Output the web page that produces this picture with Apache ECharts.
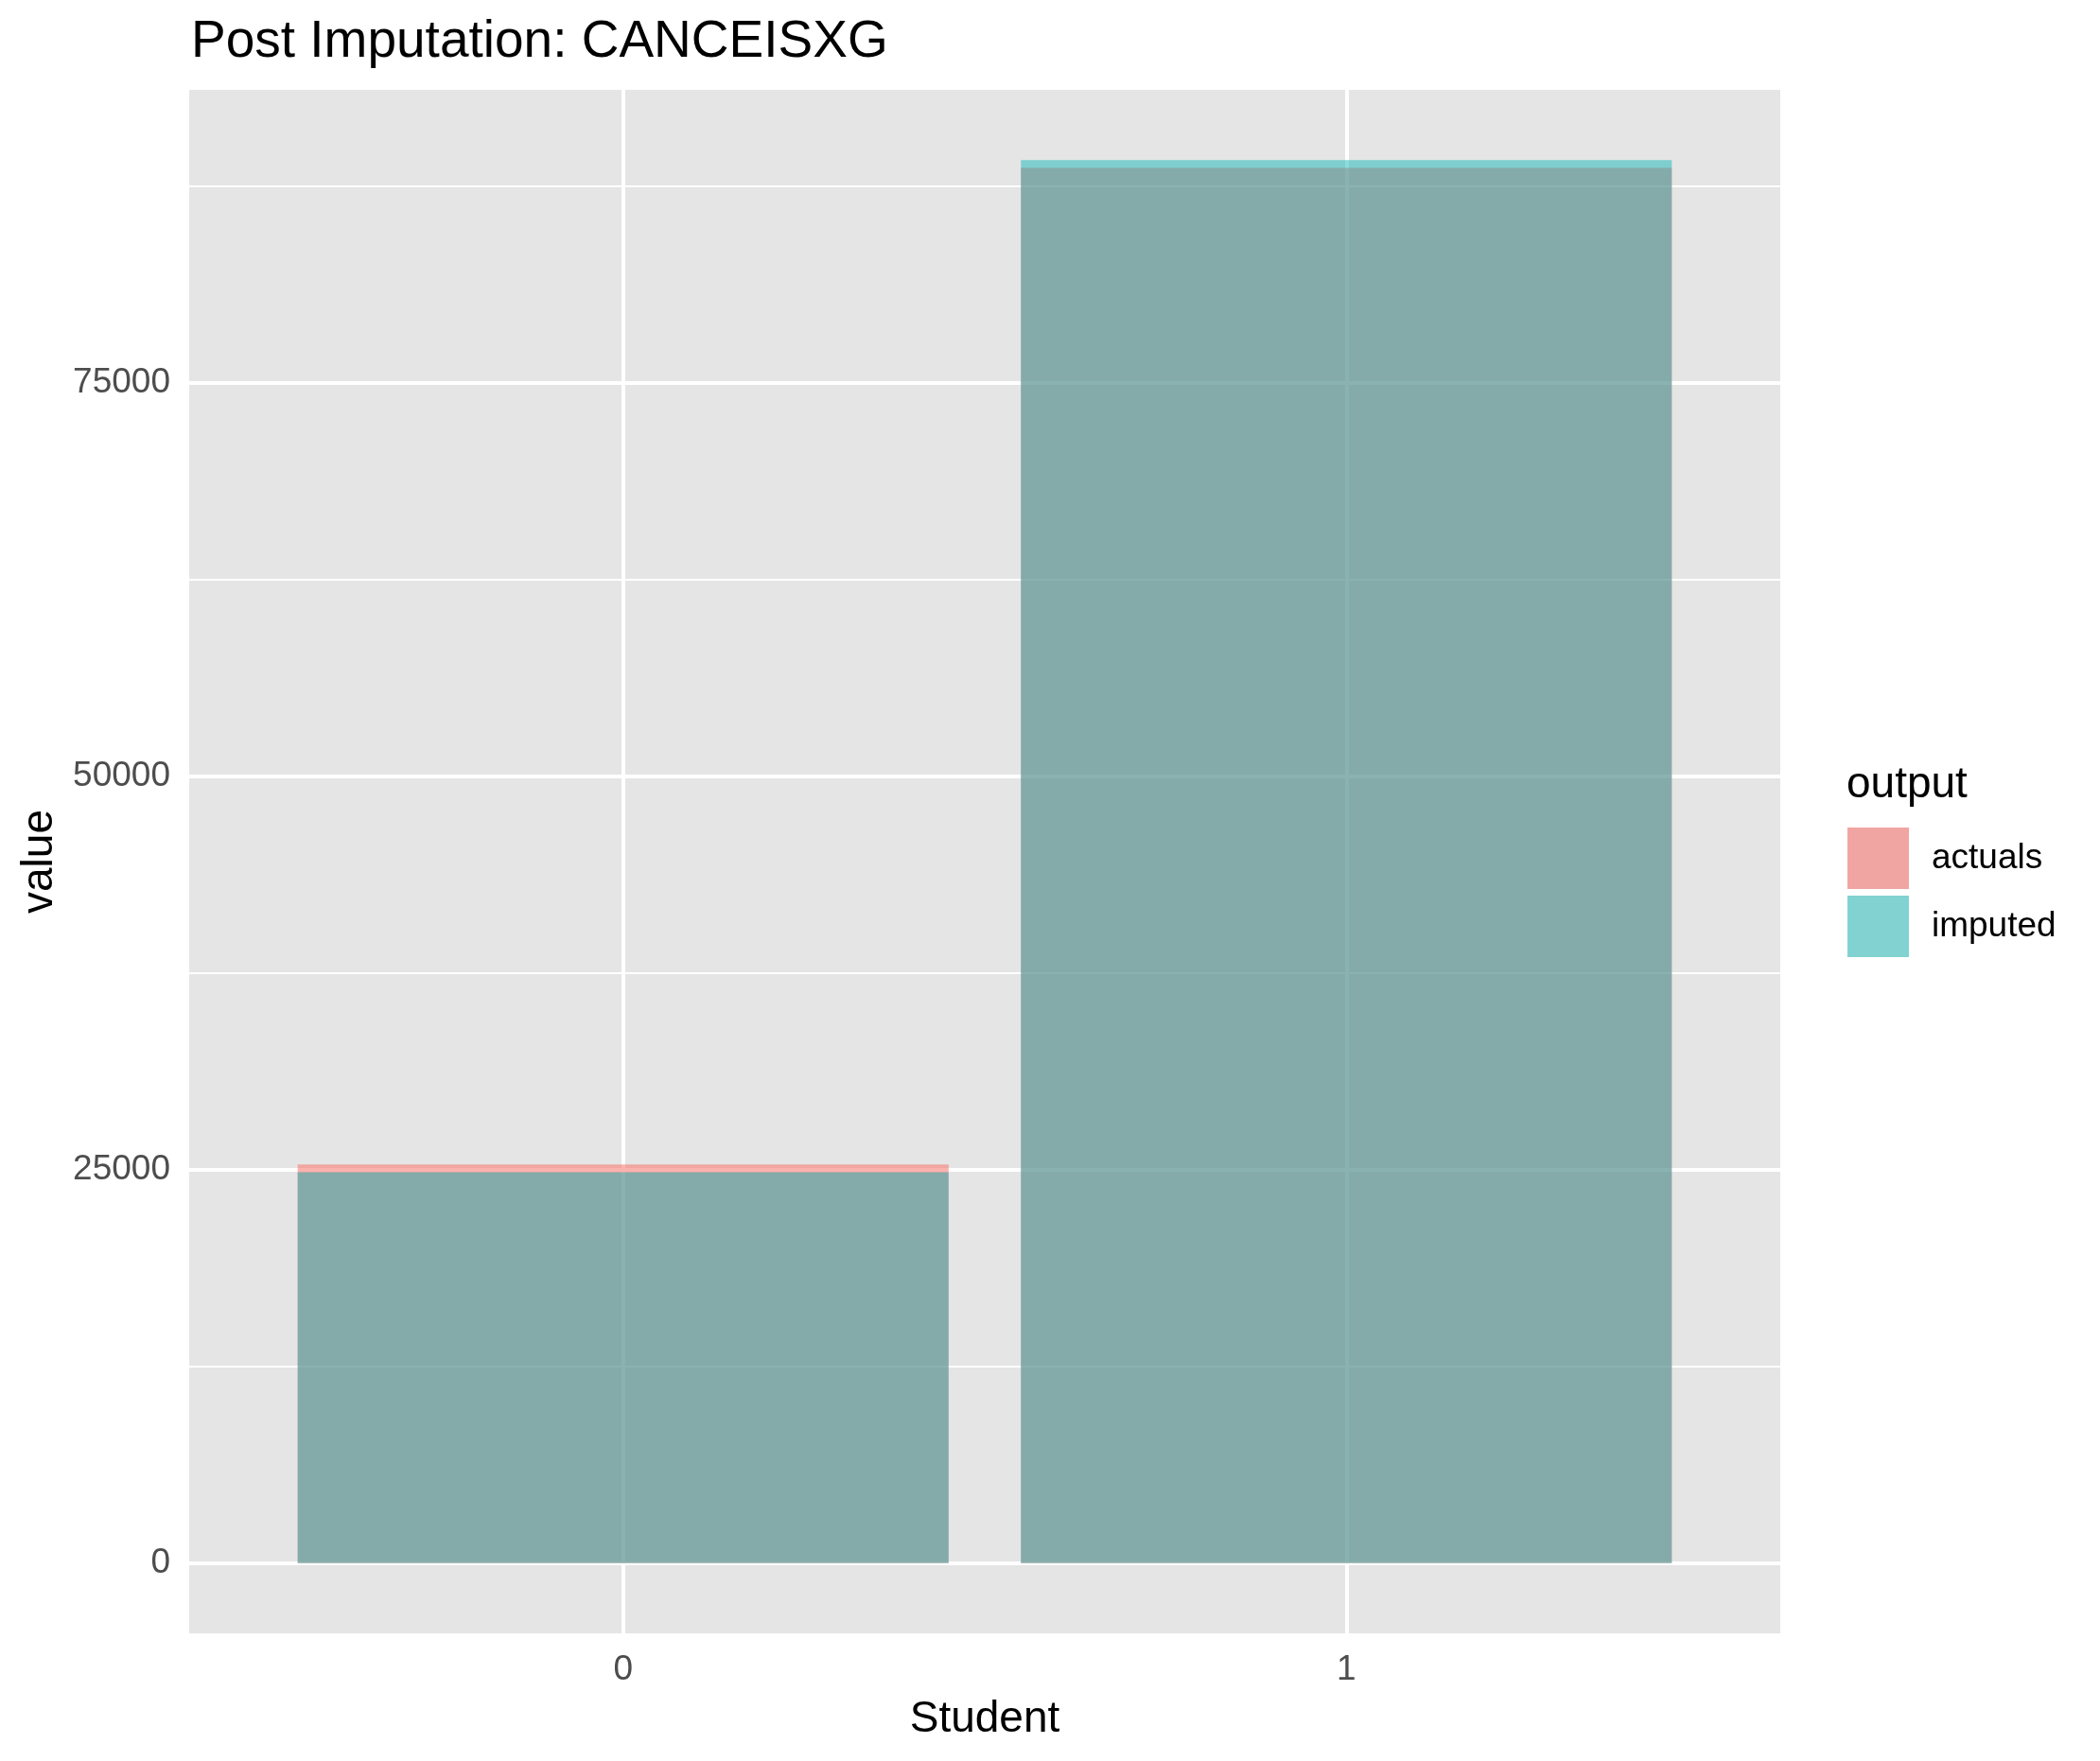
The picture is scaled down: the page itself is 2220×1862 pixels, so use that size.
<!DOCTYPE html>
<html><head><meta charset="utf-8">
<script src="https://cdn.jsdelivr.net/npm/echarts@6/dist/echarts.min.js"></script>
<style>html,body{margin:0;padding:0;background:#fff}#c{width:2220px;height:1862px}</style>
</head><body><div id="c"></div>
<script>
const categories = ['0', '1'];
const categoryPos = [0, 1];
const actuals = [25340, 88670];
const imputed = [24840, 89170];
const yTicks = [0, 25000, 50000, 75000];
const yMinor = [12500, 37500, 62500, 87500];
const seriesNames = ['actuals', 'imputed'];

const FONT = '"Liberation Sans", Arial, Helvetica, sans-serif';
const maxVal = Math.max(...actuals, ...imputed);
const yMin = -0.05 * maxVal, yMax = maxVal * 1.05;

function barRender(params, api) {
  const x = api.value(0), y = api.value(1);
  const p0 = api.coord([x - 0.45, y]);
  const p1 = api.coord([x + 0.45, 0]);
  return {type: 'rect', shape: {x: p0[0], y: p0[1], width: p1[0] - p0[0], height: p1[1] - p0[1]}, style: api.style()};
}

const chart = echarts.init(document.getElementById('c'), null, {renderer: 'canvas'});
chart.setOption({
  animation: false,
  backgroundColor: '#ffffff',
  title: [
    {text: 'Post Imputation: CANCEISXG', left: 197, top: 12,
     textStyle: {fontFamily: FONT, fontSize: 55, fontWeight: 'normal', color: '#000'}},
    {text: 'output', left: 1947, top: 802,
     textStyle: {fontFamily: FONT, fontSize: 46, fontWeight: 'normal', color: '#000'}}
  ],
  legend: {
    orient: 'vertical', left: 1946, top: 868, itemWidth: 67, itemHeight: 67, itemGap: 3,
    icon: 'rect',
    data: [
      {name: 'actuals', itemStyle: {color: '#F1A5A2', borderColor: '#fff', borderWidth: 2}},
      {name: 'imputed', itemStyle: {color: '#82D2D2', borderColor: '#fff', borderWidth: 2}}
    ],
    textStyle: {fontFamily: FONT, fontSize: 37, color: '#000', padding: [0, 0, 0, 18]}
  },
  grid: {left: 200, right: 338, top: 95, bottom: 135, show: true, backgroundColor: '#E5E5E5', borderWidth: 0},
  xAxis: {
    type: 'value', min: -0.6, max: 1.6,
    name: 'Student', nameLocation: 'middle', nameGap: 68,
    nameTextStyle: {fontFamily: FONT, fontSize: 46, color: '#000'},
    axisLine: {show: false},
    axisTick: {show: true, customValues: categoryPos, length: 12, lineStyle: {color: '#333', width: 4}},
    axisLabel: {customValues: categoryPos, margin: 20, fontFamily: FONT, fontSize: 37, color: '#4D4D4D',
      formatter: v => categories[categoryPos.indexOf(v)]},
    splitLine: {show: false}
  },
  yAxis: {
    type: 'value', min: yMin, max: yMax,
    name: 'value', nameLocation: 'middle', nameGap: 135, nameRotate: 90,
    nameTextStyle: {fontFamily: FONT, fontSize: 46, color: '#000'},
    axisLine: {show: false},
    axisTick: {show: true, customValues: yTicks, length: 12, lineStyle: {color: '#333', width: 4}},
    axisLabel: {customValues: yTicks, margin: 20, fontFamily: FONT, fontSize: 37, color: '#4D4D4D',
      formatter: v => String(v)},
    splitLine: {show: false}
  },
  series: [
    {
      name: 'grid', type: 'custom', z: 1, silent: true, data: [],
      renderItem: () => null,
      markLine: {
        z: 1, silent: true, symbol: 'none', label: {show: false}, animation: false,
        data: [
          ...yMinor.map(v => ({yAxis: v, lineStyle: {color: '#fff', width: 2, type: 'solid'}})),
          ...yTicks.map(v => ({yAxis: v, lineStyle: {color: '#fff', width: 4, type: 'solid'}})),
          ...categoryPos.map(v => ({xAxis: v, lineStyle: {color: '#fff', width: 4, type: 'solid'}}))
        ]
      }
    },
    {
      name: seriesNames[0], type: 'custom', z: 3, renderItem: barRender,
      itemStyle: {color: 'rgba(248,118,109,0.56)'},
      encode: {x: 0, y: 1},
      data: categoryPos.map((p, i) => [p, actuals[i]])
    },
    {
      name: seriesNames[1], type: 'custom', z: 4, renderItem: barRender,
      itemStyle: {color: 'rgba(0,178,180,0.45)'},
      encode: {x: 0, y: 1},
      data: categoryPos.map((p, i) => [p, imputed[i]])
    }
  ]
});
</script></body></html>
